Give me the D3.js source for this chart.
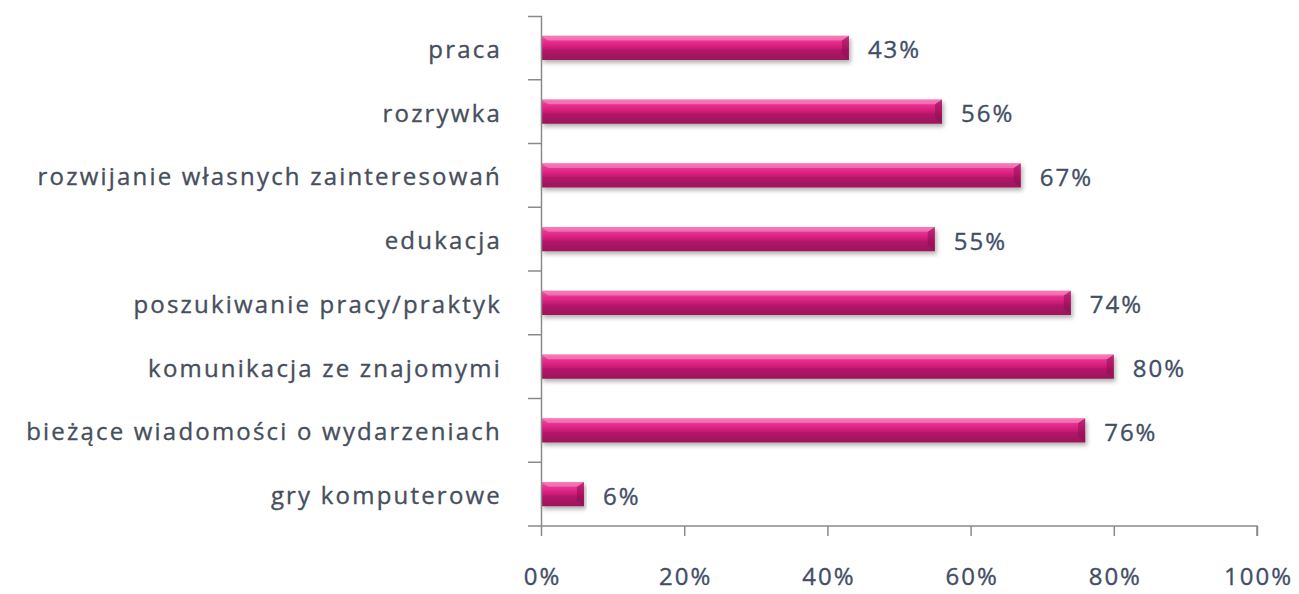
<!DOCTYPE html>
<html>
<head>
<meta charset="utf-8">
<script src="https://cdn.jsdelivr.net/npm/d3@7"></script>
<style>
  body { margin: 0; background: #fff; }
  text { font-family: "Open Sans", "Noto Sans", sans-serif; }
</style>
</head>
<body>
<div id="chart"></div>
<script>
var categories = ["praca", "rozrywka", "rozwijanie własnych zainteresowań", "edukacja",
  "poszukiwanie pracy/praktyk", "komunikacja ze znajomymi",
  "bieżące wiadomości o wydarzeniach", "gry komputerowe"];
var values = [43, 56, 67, 55, 74, 80, 76, 6];
var xTicks = [0, 20, 40, 60, 80, 100];

var svgWidth = 1299;
var svgHeight = 594;
var margin = {top: 16, right: 42, bottom: 68, left: 541};
var width = svgWidth - margin.left - margin.right;
var height = svgHeight - margin.top - margin.bottom;

var svg = d3.select("#chart").append("svg")
  .attr("width", svgWidth)
  .attr("height", svgHeight);

var defs = svg.append("defs");
var grad = defs.append("linearGradient")
  .attr("id", "barGrad")
  .attr("x1", 0).attr("y1", 0).attr("x2", 0).attr("y2", 1);
grad.append("stop").attr("offset", "0%").attr("stop-color", "#f266ad");
grad.append("stop").attr("offset", "18%").attr("stop-color", "#ea3592");
grad.append("stop").attr("offset", "45%").attr("stop-color", "#d61d7e");
grad.append("stop").attr("offset", "60%").attr("stop-color", "#b3186a");
grad.append("stop").attr("offset", "100%").attr("stop-color", "#9a1459");

var shadow = defs.append("filter").attr("id", "shadow")
  .attr("x", "-5%").attr("y", "-20%").attr("width", "110%").attr("height", "160%");
shadow.append("feDropShadow")
  .attr("dx", 2).attr("dy", 3).attr("stdDeviation", 2)
  .attr("flood-color", "#000").attr("flood-opacity", 0.3);

var chartGroup = svg.append("g")
  .attr("transform", `translate(${margin.left}, ${margin.top})`);

var xScale = d3.scaleLinear().domain([0, 100]).range([0, width]);
var yScale = d3.scaleBand().domain(categories).range([0, height]).paddingInner(0.62).paddingOuter(0.31);

var barH = yScale.bandwidth();
var gap = yScale.step() - barH;

// bars
var bars = chartGroup.selectAll(".bar")
  .data(values)
  .enter()
  .append("g")
  .attr("transform", (d, i) => `translate(0, ${yScale(categories[i])})`);

bars.append("rect")
  .attr("x", 0)
  .attr("y", 0)
  .attr("width", d => xScale(d))
  .attr("height", barH)
  .attr("fill", "url(#barGrad)")
  .attr("filter", "url(#shadow)");

// bevel on right end
bars.append("path")
  .attr("d", d => {
    var w = xScale(d);
    return `M${w - 7},${barH * 0.2} L${w},0 L${w},${barH} L${w - 7},${barH * 0.75} Z`;
  })
  .attr("fill", "#8c1150")
  .attr("opacity", 0.55);

// top highlight strip
bars.append("path")
  .attr("d", d => {
    var w = xScale(d);
    return `M0,0 L${w},0 L${w - 7},${barH * 0.2} L7,${barH * 0.2} Z`;
  })
  .attr("fill", "#f88cc3")
  .attr("opacity", 0.6);

// value labels
chartGroup.selectAll(".val")
  .data(values)
  .enter()
  .append("text")
  .attr("x", d => xScale(d) + 19)
  .attr("y", (d, i) => yScale(categories[i]) + barH / 2 + 2)
  .attr("dy", "0.35em")
  .attr("fill", "#434e66")
  .attr("stroke", "#434e66")
  .attr("stroke-width", 0.35)
  .style("font-size", "24px")
  .style("letter-spacing", "2px")
  .text(d => d + "%");

// x axis
var bottomAxis = d3.axisBottom(xScale)
  .tickValues(xTicks)
  .tickFormat(d => d + "%")
  .tickSize(10)
  .tickPadding(32);

var xAxis = chartGroup.append("g")
  .attr("transform", `translate(0, ${height})`)
  .call(bottomAxis);
xAxis.select(".domain").attr("stroke", "#8a8a8a").attr("stroke-width", 1.5)
  .attr("d", `M0.5,0H${width}V10`);
xAxis.selectAll(".tick line").attr("stroke", "#8a8a8a").attr("stroke-width", 1.5);
xAxis.selectAll(".tick text")
  .attr("fill", "#434e66")
  .attr("stroke", "#434e66")
  .attr("stroke-width", 0.35)
  .attr("dx", "1px")
  .style("font-size", "24px")
  .style("letter-spacing", "2px");

// y axis
var leftAxis = d3.axisLeft(yScale).tickSize(0).tickPadding(39);
var yAxis = chartGroup.append("g").call(leftAxis);
yAxis.select(".domain").attr("stroke", "#8a8a8a").attr("stroke-width", 1.5)
  .attr("d", `M-13,0.5H0.5V${height}`);
yAxis.selectAll(".tick text")
  .attr("fill", "#474e5c")
  .attr("stroke", "#474e5c")
  .attr("stroke-width", 0.35)
  .attr("dy", "0.42em")
  .style("font-size", "24px")
  .style("letter-spacing", "2.2px");

// separators between categories
chartGroup.selectAll(".sep")
  .data(categories)
  .enter()
  .append("line")
  .attr("x1", -13)
  .attr("x2", 0)
  .attr("y1", d => yScale(d) + barH + gap / 2)
  .attr("y2", d => yScale(d) + barH + gap / 2)
  .attr("stroke", "#8a8a8a")
  .attr("stroke-width", 1.5);
</script>
</body>
</html>
